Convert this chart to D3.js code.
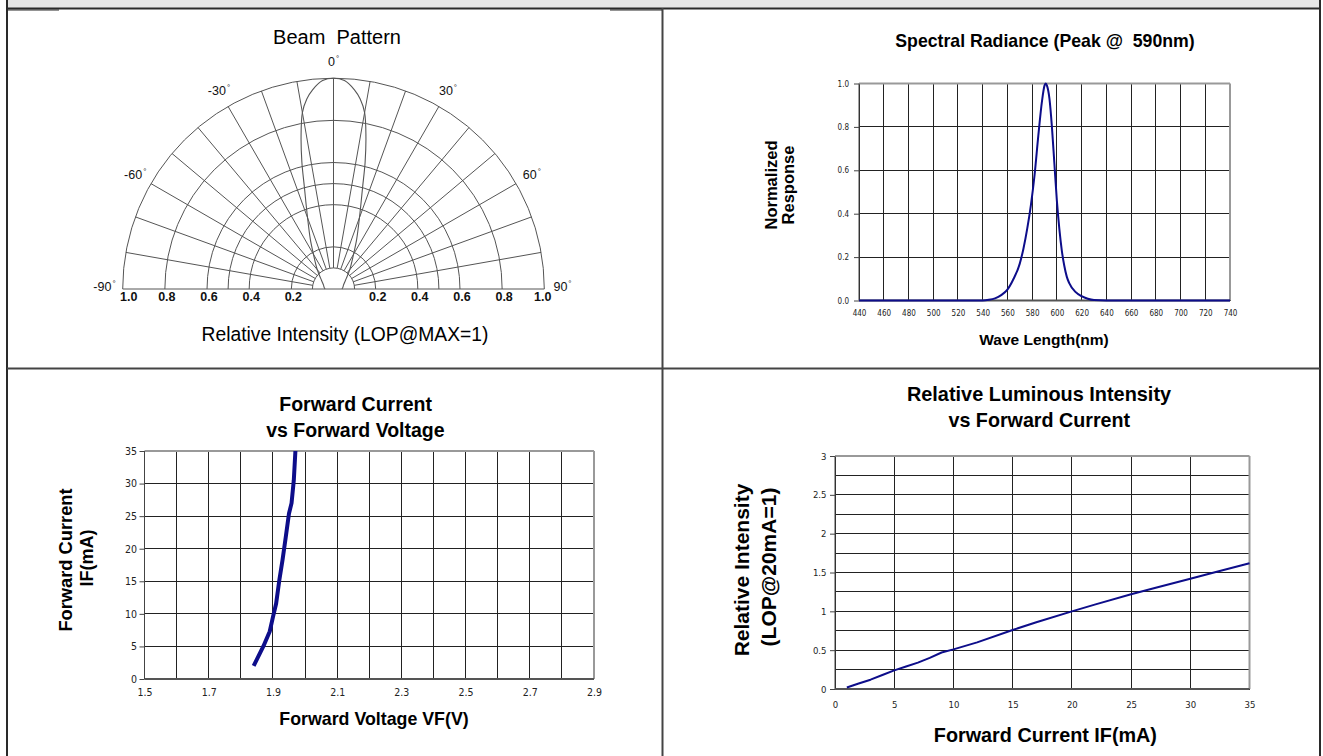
<!DOCTYPE html>
<html>
<head>
<meta charset="utf-8">
<script src="https://cdn.jsdelivr.net/npm/d3@7"></script>
<style>
  body { margin: 0; background: #fff; }
  svg text { font-family: "Liberation Sans", Arial, sans-serif; white-space: pre; }
  svg .tick text { font-family: "Liberation Sans Narrow", "Arial Narrow", "DejaVu Sans Condensed", sans-serif; }
</style>
</head>
<body>
<script>
// beam pattern (angle in degrees, relative intensity)
const beamAngles = [-90,-80,-70,-60,-50,-40,-30,-25,-20,-18,-16,-14,-12,-10,-8,-6,-3,0,3,6,8,10,12,14,16,18,20,25,30,40,50,60,70,80,90];
const beamIntensity = [0.04,0.045,0.05,0.06,0.08,0.12,0.19,0.26,0.36,0.42,0.5,0.62,0.74,0.85,0.91,0.95,0.99,1.0,0.99,0.95,0.91,0.85,0.74,0.62,0.5,0.42,0.36,0.26,0.19,0.12,0.08,0.06,0.05,0.045,0.04];
const beamRings = [0.1, 0.2, 0.4, 0.5, 0.6, 0.8, 1.0];
const beamRingLabels = [0.2, 0.4, 0.6, 0.8, 1.0];
const beamAngleLabels = [-90, -60, -30, 0, 30, 60, 90];

// spectral radiance
const waveLengths = [440,460,480,500,520,540,545,550,555,560,565,570,573,576,579,582,585,588,590,591,592,594,596,598,600,602,604,606,608,610,615,620,625,630,640,660,680,700,720,740];
const response = [0,0,0,0,0,0,0.003,0.01,0.025,0.05,0.1,0.17,0.24,0.33,0.44,0.58,0.76,0.92,0.99,1.0,0.99,0.93,0.8,0.63,0.46,0.33,0.23,0.16,0.11,0.08,0.04,0.02,0.008,0.002,0,0,0,0,0,0];
const waveTicks = [440,460,480,500,520,540,560,580,600,620,640,660,680,700,720,740];
const responseTicks = [0, 0.2, 0.4, 0.6, 0.8, 1.0];

// forward current vs forward voltage
const fwdVoltage = [1.84,1.85,1.87,1.89,1.90,1.91,1.92,1.93,1.94,1.95,1.958,1.965,1.97];
const fwdCurrent = [2,3,5,7.3,9.5,11.6,15.2,18.3,21.8,25.4,27,30.5,35];
const voltGrid = [1.5,1.6,1.7,1.8,1.9,2.0,2.1,2.2,2.3,2.4,2.5,2.6,2.7,2.8,2.9];
const voltTicks = [1.5,1.7,1.9,2.1,2.3,2.5,2.7,2.9];
const currentTicks = [0,5,10,15,20,25,30,35];

// relative luminous intensity vs forward current
const ifCurrent = [1,2,3,4,5,6,7,8,9,10,12,15,17,20,22,25,27,30,32,35];
const relIntensity = [0.02,0.07,0.12,0.18,0.24,0.29,0.34,0.4,0.47,0.51,0.6,0.76,0.86,1.0,1.09,1.22,1.3,1.42,1.5,1.62];
const ifTicks = [0,5,10,15,20,25,30,35];
const relGrid = [0,0.25,0.5,0.75,1,1.25,1.5,1.75,2,2.25,2.5,2.75,3];
const relTicks = [0,0.5,1,1.5,2,2.5,3];

const navy = "#0d0d8a";

let svg = d3.select("body").append("svg")
    .attr("width", 1323)
    .attr("height", 756);

// ---- table frame ----
svg.append("rect").attr("x", 6).attr("y", 0).attr("width", 1314).attr("height", 8).attr("fill", "#e6e6e6");
let frame = svg.append("g").attr("stroke", "#2a2a2a").attr("stroke-width", 2);
frame.append("line").attr("x1", 6).attr("x2", 1321).attr("y1", 8.5).attr("y2", 8.5);
frame.append("line").attr("x1", 7).attr("x2", 7).attr("y1", 0).attr("y2", 756);
frame.append("line").attr("x1", 1320).attr("x2", 1320).attr("y1", 0).attr("y2", 756);
frame.append("line").attr("x1", 662.5).attr("x2", 662.5).attr("y1", 8).attr("y2", 756).attr("stroke", "#444");
frame.append("line").attr("x1", 7).attr("x2", 1320).attr("y1", 368.5).attr("y2", 368.5).attr("stroke", "#444");
frame.append("line").attr("x1", 7).attr("x2", 59).attr("y1", 10).attr("y2", 10).attr("stroke-width", 1);
frame.append("line").attr("x1", 610).attr("x2", 662).attr("y1", 10).attr("y2", 10).attr("stroke-width", 1);

// ---- beam pattern (polar) ----
const cx = 333.5, cy = 289;
let r = d3.scaleLinear().domain([0, 1]).range([0, 210.8]);
let beam = svg.append("g").attr("transform", "translate(" + cx + "," + cy + ")");
let gridStyle = g => g.attr("fill", "none").attr("stroke", "#555").attr("stroke-width", 1);

beam.selectAll(".ring")
  .data(beamRings)
  .enter().append("path")
    .attr("class", "ring")
    .attr("d", function(d) { let p = d3.path(); p.arc(0, 0, r(d), Math.PI, 2 * Math.PI); return p.toString(); })
    .call(gridStyle);

beam.selectAll(".spoke")
  .data(d3.range(-80, 81, 10))
  .enter().append("line")
    .attr("class", "spoke")
    .attr("x1", d => r(0.1) * Math.sin(d * Math.PI / 180))
    .attr("y1", d => -r(0.1) * Math.cos(d * Math.PI / 180))
    .attr("x2", d => r(1) * Math.sin(d * Math.PI / 180))
    .attr("y2", d => -r(1) * Math.cos(d * Math.PI / 180))
    .call(gridStyle);

beam.append("line").attr("x1", -r(1)).attr("x2", r(1)).attr("y1", 0).attr("y2", 0).call(gridStyle);

let beamLine = d3.lineRadial()
    .angle(d => d[0] * Math.PI / 180)
    .radius(d => r(d[1]))
    .curve(d3.curveCatmullRom);

beam.append("path")
    .attr("d", beamLine(beamAngles.map((a, i) => [a, beamIntensity[i]])))
    .attr("fill", "none")
    .attr("stroke", "#555")
    .attr("stroke-width", 1.1);

beamAngleLabels.forEach(function(a) {
  let t = beam.append("text")
      .attr("x", 229 * Math.sin(a * Math.PI / 180))
      .attr("y", -229 * Math.cos(a * Math.PI / 180) + (Math.abs(a) == 90 ? -2 : 0) + (a == 0 ? 2 : 0))
      .attr("dy", "0.35em")
      .attr("text-anchor", "middle")
      .attr("font-size", 12.5)
      .attr("fill", "#111")
      .text(a);
  t.append("tspan").attr("font-size", 8).attr("dx", 1).attr("dy", -5).text("°");
});

beamRingLabels.forEach(function(v) {
  [-1, 1].forEach(function(s) {
    let nudge = v == 1 ? (s < 0 ? 6 : -1.5) : 2;
    beam.append("text")
        .attr("x", s * r(v) + nudge)
        .attr("y", 11.5)
        .attr("text-anchor", "middle")
        .attr("font-size", 12.5)
        .attr("font-weight", "bold")
        .attr("fill", "#111")
        .text(v.toFixed(1));
  });
});

svg.append("text").attr("x", 337).attr("y", 43.5).attr("text-anchor", "middle")
    .attr("font-size", 20).text("Beam  Pattern");
svg.append("text").attr("x", 345).attr("y", 341).attr("text-anchor", "middle")
    .attr("font-size", 19.3).text("Relative Intensity (LOP@MAX=1)");

// ---- cartesian panels ----
function panel(c) {
  let g = svg.append("g");
  let [xa, xb] = c.x.range(), [yb, ya] = c.y.range();

  g.selectAll(".vgrid").data(c.xGrid).enter().append("line")
      .attr("x1", d => c.x(d)).attr("x2", d => c.x(d)).attr("y1", ya).attr("y2", yb)
      .attr("stroke", "#222").attr("stroke-width", 1).attr("shape-rendering", "crispEdges");
  g.selectAll(".hgrid").data(c.yGrid).enter().append("line")
      .attr("x1", xa).attr("x2", xb).attr("y1", d => c.y(d)).attr("y2", d => c.y(d))
      .attr("stroke", "#222").attr("stroke-width", 1).attr("shape-rendering", "crispEdges");

  // plot area border: grey top/right, darker axes
  g.append("line").attr("x1", xa).attr("x2", xb).attr("y1", ya).attr("y2", ya).attr("stroke", "#999").attr("stroke-width", 2);
  g.append("line").attr("x1", xb).attr("x2", xb).attr("y1", ya).attr("y2", yb).attr("stroke", "#999").attr("stroke-width", 2);
  g.append("line").attr("x1", xa).attr("x2", xb).attr("y1", yb).attr("y2", yb).attr("stroke", "#555").attr("stroke-width", 2);
  g.append("line").attr("x1", xa).attr("x2", xa).attr("y1", ya).attr("y2", yb).attr("stroke", "#444").attr("stroke-width", 1);

  g.append("g")
      .attr("transform", "translate(0," + yb + ")")
      .call(d3.axisBottom(c.x).tickValues(c.xTicks).tickSize(0).tickPadding(c.xPad).tickFormat(c.xFmt))
      .call(a => a.select(".domain").remove())
      .selectAll("text").attr("font-size", c.fs).attr("fill", "#222");

  g.append("g")
      .attr("transform", "translate(" + xa + ",0)")
      .call(d3.axisLeft(c.y).tickValues(c.yTicks).tickSize(5).tickPadding(c.yPad).tickFormat(c.yFmt))
      .call(a => a.select(".domain").remove())
      .call(a => a.selectAll("line").attr("stroke", "#444"))
      .selectAll("text").attr("font-size", c.fs).attr("fill", "#222");

  g.append("path")
      .attr("d", d3.line().x(d => c.x(d[0])).y(d => c.y(d[1])).curve(c.curve)(c.xs.map((v, i) => [v, c.ys[i]])))
      .attr("fill", "none")
      .attr("stroke", navy)
      .attr("stroke-width", c.lw)
      .attr("stroke-linejoin", "round");

  c.titles.forEach(function(t) {
    g.append("text")
        .attr("transform", "translate(" + t[0] + "," + t[1] + ")" + (t[4] ? " rotate(-90)" : ""))
        .attr("text-anchor", "middle")
        .attr("font-size", t[2])
        .attr("font-weight", "bold")
        .attr("fill", "#000")
        .text(t[3]);
  });
}

panel({
  x: d3.scaleLinear().domain([440, 740]).range([859, 1230]),
  y: d3.scaleLinear().domain([0, 1]).range([300.5, 83.5]),
  xGrid: waveTicks, yGrid: responseTicks, xTicks: waveTicks, yTicks: responseTicks,
  xFmt: d3.format("d"), yFmt: d3.format(".1f"), fs: 8, xPad: 10, yPad: 5,
  xs: waveLengths, ys: response, curve: d3.curveMonotoneX, lw: 2,
  titles: [
    [1045, 47, 17.7, "Spectral Radiance (Peak @  590nm)"],
    [776.5, 185, 16.5, "Normalized", true],
    [794, 185, 16.5, "Response", true],
    [1044, 345, 15.5, "Wave Length(nm)"]
  ]
});

panel({
  x: d3.scaleLinear().domain([1.5, 2.9]).range([144.5, 594]),
  y: d3.scaleLinear().domain([0, 35]).range([679, 451]),
  xGrid: voltGrid, yGrid: currentTicks, xTicks: voltTicks, yTicks: currentTicks,
  xFmt: d3.format(".1f"), yFmt: d3.format("d"), fs: 10.5, xPad: 10, yPad: 2.5,
  xs: fwdVoltage, ys: fwdCurrent, curve: d3.curveLinear, lw: 4,
  titles: [
    [355.6, 410.7, 19.5, "Forward Current"],
    [355.4, 436.7, 19.5, "vs Forward Voltage"],
    [71.8, 560, 18.3, "Forward Current", true],
    [93, 558, 18, "IF(mA)", true],
    [374, 724.5, 17.8, "Forward Voltage VF(V)"]
  ]
});

panel({
  x: d3.scaleLinear().domain([0, 35]).range([835, 1249.5]),
  y: d3.scaleLinear().domain([0, 3]).range([689, 456]),
  xGrid: ifTicks, yGrid: relGrid, xTicks: ifTicks, yTicks: relTicks,
  xFmt: d3.format("d"), yFmt: d3.format(""), fs: 9.5, xPad: 12, yPad: 3.5,
  xs: ifCurrent, ys: relIntensity, curve: d3.curveLinear, lw: 2,
  titles: [
    [1039, 400.7, 19.9, "Relative Luminous Intensity"],
    [1039.3, 426.7, 19.7, "vs Forward Current"],
    [749, 570, 21, "Relative Intensity", true],
    [776, 567, 21, "(LOP@20mA=1)", true],
    [1045.4, 741.7, 19.8, "Forward Current IF(mA)"]
  ]
});
</script>
</body>
</html>
